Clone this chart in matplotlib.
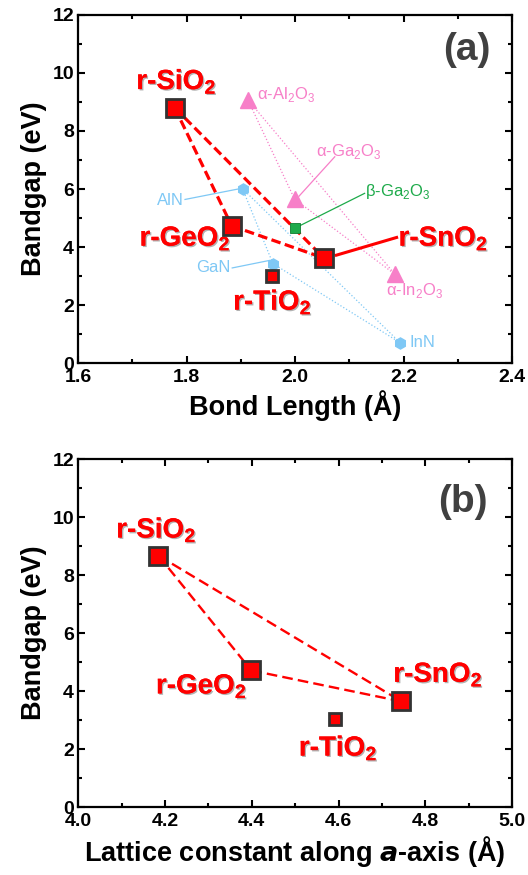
import matplotlib
matplotlib.use("Agg")
import matplotlib.pyplot as plt
import matplotlib.patheffects as pe
from matplotlib.ticker import MultipleLocator

plt.rcParams['font.family'] = ['Liberation Sans', 'DejaVu Sans']
plt.rcParams['mathtext.fontset'] = 'custom'
plt.rcParams['mathtext.rm'] = 'Liberation Sans'
plt.rcParams['mathtext.bf'] = 'Liberation Sans:bold'

# rutile oxides: bond length (a) and a-axis lattice constant (b) vs bandgap
rutile_names = ['r-SiO2', 'r-GeO2', 'r-SnO2', 'r-TiO2']
rutile_bond = [1.778, 1.883, 2.053, 1.958]
rutile_lat = [4.185, 4.399, 4.745, 4.592]
rutile_gap_a = [8.80, 4.73, 3.62, 3.01]
rutile_gap_b = [8.67, 4.71, 3.64, 3.04]

# corundum oxides
cor_names = ['α-Al$_2$O$_3$', 'α-Ga$_2$O$_3$', 'α-In$_2$O$_3$']
cor_bond = [1.913, 1.999, 2.184]
cor_gap = [9.07, 5.65, 3.06]

# beta-Ga2O3
beta_bond = [2.000]
beta_gap = [4.66]

# nitrides
nit_names = ['AlN', 'GaN', 'InN']
nit_bond = [1.903, 1.959, 2.193]
nit_gap = [6.01, 3.43, 0.71]

RED = '#FF0000'
PINK = '#F77FC8'
GREEN = '#1DAA4A'
BLUE = '#7FC8F5'
EDGE = '#333333'

shadow = [pe.withSimplePatchShadow(offset=(1, -1), shadow_rgbFace='#555555', alpha=0.45), pe.Normal()]

fig = plt.figure(figsize=(5.28, 8.75), dpi=100)
ax1 = fig.add_axes([0.148, 0.585, 0.822, 0.398])
ax2 = fig.add_axes([0.148, 0.0777, 0.822, 0.3977])


def style(ax, xlim, xmaj, xmin):
    ax.set_xlim(*xlim)
    ax.set_ylim(0, 12)
    ax.xaxis.set_major_locator(MultipleLocator(xmaj))
    ax.xaxis.set_minor_locator(MultipleLocator(xmin))
    ax.yaxis.set_major_locator(MultipleLocator(2))
    ax.yaxis.set_minor_locator(MultipleLocator(1))
    ax.tick_params(which='both', direction='in', top=True, right=True, width=1.5)
    ax.tick_params(which='major', length=5, labelsize=14, pad=3)
    ax.tick_params(axis='x', which='major', pad=4)
    ax.tick_params(which='minor', length=3)
    for lab in ax.get_xticklabels() + ax.get_yticklabels():
        lab.set_fontweight('bold')
    for s in ax.spines.values():
        s.set_linewidth(1.6)
    ax.set_ylabel('Bandgap (eV)', fontsize=19.5, fontweight='bold', labelpad=4)


# ---------- panel (a)
ax = ax1
# nitride triangle
for i, j in [(0, 1), (1, 2), (0, 2)]:
    ax.plot([nit_bond[i], nit_bond[j]], [nit_gap[i], nit_gap[j]], ls=':', color=BLUE, lw=0.9, zorder=1)
ax.plot(nit_bond, nit_gap, 'h', ms=8, color=BLUE, mec=BLUE, zorder=3)
# corundum triangle
for i, j in [(0, 1), (1, 2), (0, 2)]:
    ax.plot([cor_bond[i], cor_bond[j]], [cor_gap[i], cor_gap[j]], ls=':', color=PINK, lw=0.9, zorder=1)
ax.plot(cor_bond, cor_gap, '^', ms=11, color=PINK, mec=PINK, zorder=3)
# rutile triangle
for i, j in [(0, 1), (1, 2), (0, 2)]:
    ax.plot([rutile_bond[i], rutile_bond[j]], [rutile_gap_a[i], rutile_gap_a[j]], ls=(0, (3, 1.4)),
            color=RED, lw=2.3, zorder=2)
ax.plot(beta_bond, beta_gap, 's', ms=6.5, color=GREEN, mec='#0E7A30', mew=0.6, zorder=4)
ax.plot(rutile_bond[:3], rutile_gap_a[:3], 's', ms=12.5, color=RED, mec=EDGE, mew=2, zorder=5)
ax.plot(rutile_bond[3:], rutile_gap_a[3:], 's', ms=8, color=RED, mec=EDGE, mew=2, zorder=5)

big = dict(color=RED, fontsize=20, fontweight='bold', ha='center', va='center', path_effects=shadow)
ax.text(1.781, 9.7, r'r-SiO$_\mathbf{2}$', **big)
ax.text(1.797, 4.29, r'r-GeO$_\mathbf{2}$', **big)
ax.text(2.273, 4.29, r'r-SnO$_\mathbf{2}$', **big)
ax.text(1.958, 2.1, r'r-TiO$_\mathbf{2}$', **big)
ax.plot([2.076, 2.187], [3.72, 4.33], color=RED, lw=2.2, zorder=2)

small = dict(fontsize=12, va='center')
ax.text(1.929, 9.24, cor_names[0], color=PINK, ha='left', **small)
ax.text(2.039, 7.28, cor_names[1], color=PINK, ha='left', **small)
ax.plot([2.073, 2.007], [7.11, 5.75], color=PINK, lw=0.9)
ax.text(2.168, 2.51, cor_names[2], color=PINK, ha='left', **small)
ax.text(2.128, 5.90, 'β-Ga$_2$O$_3$', color=GREEN, ha='left', **small)
ax.plot([2.128, 2.007], [5.85, 4.72], color=GREEN, lw=0.9)
ax.text(1.794, 5.62, nit_names[0], color=BLUE, ha='right', **small)
ax.plot([1.797, 1.895], [5.64, 6.0], color=BLUE, lw=0.9)
ax.text(1.880, 3.31, nit_names[1], color=BLUE, ha='right', **small)
ax.plot([1.884, 1.953], [3.28, 3.54], color=BLUE, lw=0.9)
ax.text(2.211, 0.72, nit_names[2], color=BLUE, ha='left', **small)

ax.text(2.316, 10.79, '(a)', color='#404040', fontsize=28, fontweight='bold', ha='center', va='center')
style(ax, (1.6, 2.4), 0.2, 0.1)
ax.set_xlabel('Bond Length (Å)', fontsize=19.5, fontweight='bold', labelpad=3)

# ---------- panel (b)
ax = ax2
for i, j in [(0, 1), (1, 2), (0, 2)]:
    ax.plot([rutile_lat[i], rutile_lat[j]], [rutile_gap_b[i], rutile_gap_b[j]], ls=(0, (4.5, 2.2)),
            color=RED, lw=1.7, zorder=2)
ax.plot(rutile_lat[:3], rutile_gap_b[:3], 's', ms=12.5, color=RED, mec=EDGE, mew=2, zorder=5)
ax.plot(rutile_lat[3:], rutile_gap_b[3:], 's', ms=8.5, color=RED, mec=EDGE, mew=2, zorder=5)
ax.text(4.18, 9.55, r'r-SiO$_\mathbf{2}$', **big)
ax.text(4.284, 4.16, r'r-GeO$_\mathbf{2}$', **big)
ax.text(4.829, 4.56, r'r-SnO$_\mathbf{2}$', **big)
ax.text(4.599, 2.03, r'r-TiO$_\mathbf{2}$', **big)
ax.text(4.887, 10.53, '(b)', color='#404040', fontsize=28, fontweight='bold', ha='center', va='center')
style(ax, (4.0, 5.0), 0.2, 0.1)
ax.set_xlabel(r'Lattice constant along $\mathbfit{a}$-axis (Å)', fontsize=19.5, fontweight='bold', labelpad=3)

fig.savefig('out.png', dpi=100)
